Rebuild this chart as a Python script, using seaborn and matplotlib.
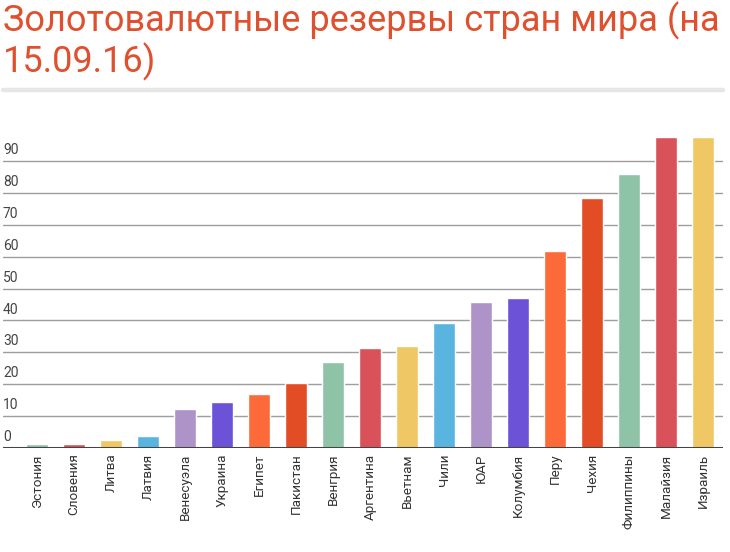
import matplotlib
matplotlib.use("Agg")
import matplotlib.pyplot as plt
import seaborn as sns
import pandas as pd
from matplotlib.lines import Line2D

countries = ["Эстония", "Словения", "Литва", "Латвия", "Венесуэла", "Украина",
             "Египет", "Пакистан", "Венгрия", "Аргентина", "Вьетнам", "Чили",
             "ЮАР", "Колумбия", "Перу", "Чехия", "Филиппины", "Малайзия", "Израиль"]
reserves = [1.4, 1.3, 2.4, 3.8, 12.3, 14.4, 16.9, 20.4, 27.0, 31.3, 32.0, 39.2,
            45.8, 47.0, 61.8, 78.4, 85.9, 97.6, 97.6]
yticks = [0, 10, 20, 30, 40, 50, 60, 70, 80, 90]
title_line1 = "Золотовалютные резервы стран мира (на"
title_line2 = "15.09.16)"

base_colors = ["#8fc3a8", "#d9525a", "#efc865", "#5ab4e0",
               "#ad93c8", "#6b52d6", "#fd6a3a", "#e24d26"]
colors = [base_colors[i % len(base_colors)] for i in range(len(countries))]

df = pd.DataFrame({"country": countries, "value": reserves})

sns.set_style("white")
plt.rcParams["font.family"] = ["Roboto", "DejaVu Sans"]

W, H = 730, 552
fig = plt.figure(figsize=(W / 100, H / 100), dpi=100)
ax = fig.add_axes([3 / W, 1 - 448 / H, 720 / W, 328 / H])

sns.barplot(data=df, x="country", y="value", hue="country", palette=colors,
            width=0.6, legend=False, ax=ax, saturation=1)

ax.set_ylim(0, 102.85)
ax.set_xlim(-0.92, 18.54)
for t in yticks[1:]:
    ax.axhline(t, color="#9e9e9e", lw=1, zorder=0)
ax.axhline(0, color="#444444", lw=2.2, zorder=3)

for t in yticks:
    ax.text(0, t + 1.2, str(t), transform=ax.get_yaxis_transform(),
            ha="left", va="bottom", fontsize=10, color="#444444")

ax.set_yticks([])
ax.set_xlabel("")
ax.set_ylabel("")
ax.tick_params(axis="x", length=0, pad=4)
ax.set_xticks(range(len(countries)))
ax.set_xticklabels(countries, rotation=90, fontsize=9.7, color="#333333")
for s in ax.spines.values():
    s.set_visible(False)

title_color = "#df512e"
fig.text(3 / W, 1 - 31 / H, title_line1, fontsize=26, color=title_color,
         ha="left", va="baseline")
fig.text(3 / W, 1 - 72 / H, title_line2, fontsize=26, color=title_color,
         ha="left", va="baseline")
fig.add_artist(Line2D([3 / W, 723 / W], [1 - 90 / H, 1 - 90 / H],
                      color="#e6e6e6", lw=3.2, transform=fig.transFigure))

fig.savefig("out.png", dpi=100)
